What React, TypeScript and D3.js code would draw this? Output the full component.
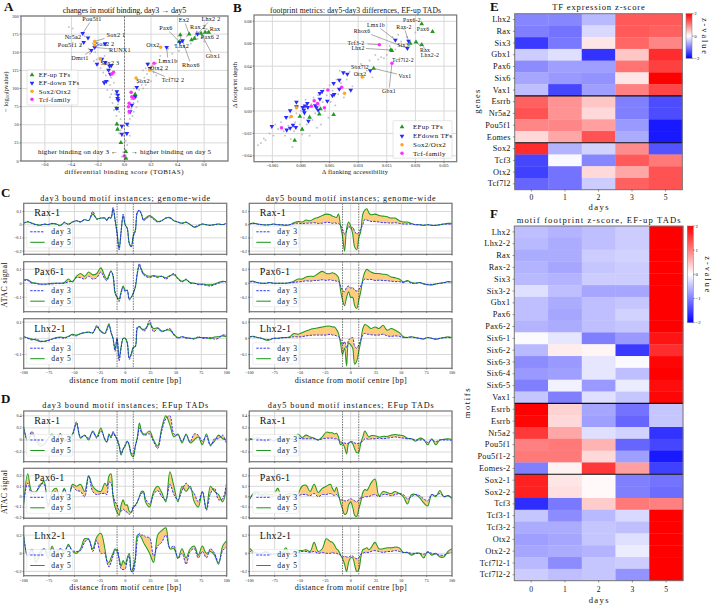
import React from "react";
import * as d3 from "d3";

const FONT = "'Liberation Serif', serif";

// ---------- panel A data ----------
const aGray: number[][] = [[-0.42,185],[-0.39,183],[-0.36,170],[-0.33,160],[-0.3,172],[-0.27,155],[-0.26,148],[-0.24,162],[-0.22,150],[-0.21,140],[-0.19,142],[-0.2,133],[-0.18,128],[-0.17,137],[-0.16,122],[-0.15,133],[-0.14,118],[-0.13,125],[-0.12,110],[-0.16,110],[-0.11,105],[-0.1,115],[-0.09,98],[-0.08,108],[-0.07,92],[-0.1,92],[-0.06,85],[-0.09,80],[-0.05,78],[-0.08,70],[-0.04,68],[-0.06,62],[-0.03,58],[-0.05,50],[-0.02,45],[-0.04,38],[-0.01,35],[-0.02,25],[0.0,18],[-0.01,12],[0.01,8],[0.02,22],[0.02,38],[0.03,48],[0.04,58],[0.03,65],[0.05,72],[0.06,62],[0.05,85],[0.07,80],[0.08,92],[0.07,100],[0.09,88],[0.1,108],[0.11,98],[0.12,112],[0.13,105],[0.14,125],[0.15,115],[0.16,128],[0.17,120],[0.18,135],[0.19,125],[0.21,132],[0.22,122],[0.24,135],[0.25,128],[0.27,145],[0.3,138],[0.33,155],[0.36,148],[0.38,160],[0.41,152],[0.43,165],[0.45,158],[0.47,172],[0.5,162],[0.52,168],[0.55,178],[0.58,170],[0.6,165],[0.62,182],[-0.13,98],[-0.11,88],[-0.07,75],[-0.03,42],[0.01,28],[0.04,35],[0.1,82],[0.14,100],[0.2,110],[0.24,118],[0.07,68],[-0.02,6],[0.02,4],[-0.15,145],[-0.23,138],[0.28,125],[0.16,105],[0.09,74]];
const aUp: number[][] = [[0.42,174],[0.4875,175],[0.505,167],[0.5275,169],[0.5775,176],[0.6075,177.5],[0.635,177.5],[0.4125,164.6],[-0.0575,51],[-0.0525,43.7],[-0.0275,25.3],[0.01,12.9],[0.01,3.7],[-0.0575,72.6],[0.08,92],[0.0725,88.7]];
const aDown: number[][] = [[-0.315,176],[-0.275,170],[-0.3075,163.7],[-0.225,156.8],[-0.25,152.6],[-0.145,161.8],[-0.17,140.7],[-0.2075,133.8],[-0.145,136],[-0.1,131.5],[-0.12,125.5],[-0.1125,131],[-0.1075,120],[-0.1375,110],[-0.1525,108],[-0.0575,95.6],[-0.05,91],[-0.0525,86.4],[-0.0475,84],[-0.0575,72.6],[-0.02,48.3],[0.02,51],[-0.02,37],[0.0175,38],[0.0425,68],[0.055,77],[0.0925,101.6],[0.175,133.8],[0.1925,127.8],[0.3175,156.8],[0.4375,166],[0.4175,163.7],[0.55,175],[0.08,88.7]];
const aSox: number[][] = [[-0.225,165],[-0.225,160],[-0.1825,140.7],[0.2725,156.8],[0.19,125.5],[0.0875,114.5]];
const aTcf: number[][] = [[-0.0825,122.3],[-0.095,120],[0.2225,134.7],[0.05,95],[0.055,88.7],[0.0675,86.4],[0.035,79.5],[0.03,75],[0.035,68],[-0.0025,6.9]];
const aLabels = ["Pou5f1","Nr5a2","Pou5f1 2","Sox2 1","Sox2 2","RUNX1","Dmrt1","Sox2 3","Pax6","Ex2","Lhx2 2","Rax 2","Rax","Pax6 2","Gbx1","Lhx2","Rhox6","Otx2","Lmx1b","Tcf7l2 2","Otx2 2","Sox2"];
const aTargets: number[][] = [[-0.315,176],[-0.315,176],[-0.3075,163.7],[-0.225,165],[-0.225,160],[-0.225,156.8],[-0.25,152.6],[-0.1825,140.7],[0.4125,164.6],[0.4875,175],[0.55,175],[0.5275,169],[0.6075,177.5],[0.505,167],[0.5775,176],[0.42,174],[0.4375,166],[0.2725,156.8],[0.3175,156.8],[0.19,125.5],[0.175,133.8],[0.0875,114.5]];
const aLabelPx: number[][] = [[92,19],[73,37],[70,45],[116,35],[105,44],[120,50],[80,58],[110,63],[166,28],[184,20],[211,19],[198,27],[215,29],[210,37],[213,56],[182,46],[191,65],[153,45],[168,61],[173,80],[159,68],[143,81]];

// ---------- panel B data ----------
const bGray: number[][] = [[-.0075,-.0305],[-.007,-.0285],[-.0065,-.0245],[-.0062,-.026],[-.0055,-.02],[-.0048,-.022],[-.0045,-.012],[-.004,-.016],[-.0035,-.01],[-.003,-.018],[-.0028,-.022],[-.0022,-.013],[-.002,-.006],[-.0018,-.025],[-.0015,-.032],[-.0012,-.018],[-.001,-.01],[-.0008,-.002],[-.0005,.004],[-.0002,-.012],[0,.0],[.0002,-.021],[.0005,-.006],[.0008,.01],[.001,-.012],[.0012,.003],[.0015,-.022],[.0018,.006],[.002,-.008],[.0022,.012],[.0025,-.002],[.0028,-.015],[.003,.014],[.0032,.005],[.0035,-.012],[.0038,.008],[.004,.02],[.0042,.0],[.0045,.014],[.0048,-.006],[.005,.023],[.0052,.008],[.0055,.018],[.006,.005],[.0062,.028],[.0065,.015],[.0068,.036],[.007,.025],[.0075,.012],[.008,.028],[.0085,.035],[.009,.022],[.0095,.04],[.01,.032],[.0105,.042],[.011,.03],[.0115,.036],[.012,.045],[.0125,.03],[.013,.05],[.0135,.046],[.014,.048],[.0145,.047],[.015,.05],[.0155,.058],[.016,.066],[.0165,.055],[.017,.068],[.0175,.062],[.018,.073],[.0185,.066],[.019,.058],[.02,.07]];
const bUp: number[][] = [[.0211,.0776],[.023,.0707],[.0201,.0615],[.0211,.0591],[.0191,.0603],[.0157,.0544],[.0159,.0538],[.0127,.038],[.0057,-.0033],[.0032,-.0027],[.0034,.0018],[.0015,-.0056],[-.0002,-.0048],[.0002,-.0163],[-.0011,-.0262]];
const bDown: number[][] = [[-.0051,-.0137],[-.0025,-.0169],[-.0019,-.0152],[-.0026,-.0056],[-.0019,.0003],[-.0008,.008],[-.0008,.0039],[-.0009,-.0146],[.0003,.0033],[.0007,.0045],[.0005,.0009],[.0006,-.0015],[.0011,.0068],[.0012,.0033],[.0013,-.0089],[.0025,.0048],[.0033,.0158],[.0037,.0175],[.0033,.0107],[.0057,.0247],[.0067,.0276],[.0074,.0342],[.0081,.033],[.0087,.0187],[.0067,.0196],[.0058,.0149],[.0055,.0137],[.0046,.0089],[.003,.0009],[.0165,.0633],[.0188,.0624],[.0186,.0559],[.0121,.036],[-.0014,-.0125],[.0027,.003]];
const bSox: number[][] = [[-.0017,-.0048],[-.0008,.003],[.0107,.0303],[.0076,.0158]];
const bTcf: number[][] = [[-.0034,-.0149],[.0023,.0092],[.0018,.0042],[.0041,.003],[.0047,.0187],[.0071,.0211],[.0137,.0591],[.0159,.0425],[.0029,.0068]];
const bLabels = ["Pax6-2","Rax-2","Pax6","Lmx1b","Rhox6","Tcf3-2","Lhx2","Six3","Rax","Lhx2-2","Tcf7l2-2","Sox7l2","Otx2","Vax1","Gbx1"];
const bTargets: number[][] = [[.0211,.0776],[.0188,.0624],[.023,.0707],[.0165,.0633],[.0186,.0559],[.0137,.0591],[.0157,.0544],[.0191,.0603],[.0201,.0615],[.0211,.0591],[.0159,.0425],[.0121,.036],[.0107,.0303],[.0127,.038],[.0159,.0425]];
const bLabelPx: number[][] = [[412,20],[404,27],[423,29],[376,25],[362,31],[356,43],[358,48],[403,45],[425,50],[430,55],[403,60],[360,67],[360,74],[405,76],[389,91]];

// ---------- footprint profiles ----------
const bp = [-100,-96,-92,-88,-84,-80,-76,-72,-68,-64,-60,-56,-52,-48,-44,-40,-36,-32,-28,-24,-20,
  -18,-16,-14,-12,-10,-8,-6,-4,-2,0,2,4,6,8,10,12,14,16,18,
  20,24,28,32,36,40,44,48,52,56,60,64,68,72,76,80,84,88,92,96,100];

const cLRaxD3 = [.01,.025,.01,0,-.005,.005,0,.01,.005,-.01,.02,0,.02,.03,.02,.04,.03,.1,.04,.05,.05,
  .03,.06,.05,.13,.04,-.07,-.19,-.05,.08,0,-.03,-.14,-.17,-.09,-.05,.1,.11,.08,.03,
  .04,.06,.04,.02,.03,.05,.05,.03,.02,.01,.02,0,-.015,-.005,.005,0,-.005,0,.005,0,.01];
const cLRaxD5 = [.012,.02,.012,.002,-.003,.003,.002,.008,.006,-.005,.015,.005,.02,.03,.022,.038,.032,.08,.045,.05,.05,
  .035,.055,.05,.12,.035,-.06,-.18,-.05,.07,0,-.025,-.14,-.165,-.08,-.04,.09,.105,.08,.04,
  .05,.07,.05,.025,.03,.05,.055,.03,.02,.012,.018,.002,-.02,-.01,.005,0,-.005,.002,.005,.002,.012];
const cLPaxD3 = [.02,.02,0,0,-.01,-.01,-.005,-.005,0,0,0,.01,.015,.04,.04,.03,.05,.03,.04,.08,.03,
  .02,.05,.085,.06,-.06,-.1,-.13,-.07,-.03,-.06,-.05,-.12,-.1,-.07,-.02,.08,.14,.09,.06,
  .05,.04,.05,.04,.05,.03,.05,.07,.03,.01,.03,0,0,-.01,-.01,-.015,-.02,-.01,0,.01,.01];
const cLPaxD5 = [.025,.025,.005,0,-.005,-.005,-.005,0,0,0,.005,.03,.01,.05,.07,.05,.08,.06,.07,.11,.05,
  .03,.06,.09,.05,-.07,-.1,-.11,-.06,-.02,-.05,-.05,-.11,-.1,-.07,-.03,.07,.125,.1,.07,
  .06,.05,.055,.05,.05,.04,.055,.06,.035,.015,.025,.005,0,-.005,-.005,-.01,-.01,-.005,.005,.015,.01];
const cLLhxD3 = [.01,0,-.01,-.005,-.015,-.02,-.015,-.005,0,.005,0,.01,.02,.015,.03,.035,.04,.03,.08,.04,.03,
  .05,.08,.04,0,-.08,0,-.14,-.06,0,0,-.03,-.13,-.1,-.06,-.05,.07,.07,.06,.045,
  .05,.11,.04,.06,.04,.05,.06,.02,0,.01,0,0,-.005,.01,0,0,.005,-.005,0,.02,.02];
const cLLhxD5 = [.012,.002,-.005,-.01,-.02,-.018,-.012,-.005,.005,.008,.005,.012,.025,.02,.028,.035,.038,.035,.07,.045,.03,
  .06,.09,.035,0,-.07,0,-.12,-.05,0,0,-.025,-.12,-.095,-.055,-.05,.06,.075,.06,.055,
  .06,.09,.06,.065,.045,.05,.05,.025,.005,.01,.005,0,0,.005,.005,.005,-.002,.008,.01,.015,.01];

const cRRaxD3 = [.005,.01,.005,0,-.002,0,.005,0,0,-.003,0,.008,.012,.008,.012,.012,.015,.01,.012,.018,.015,
  .01,.015,.01,.01,-.005,-.035,-.07,-.05,-.01,-.03,-.02,-.05,-.07,-.06,-.03,0,.04,.035,.03,
  .025,.025,.02,.015,.015,.012,.015,.01,.005,.005,.005,0,0,-.005,0,-.005,-.005,0,.005,.005,.005];
const cRRaxD5 = [.005,.012,.005,.002,-.002,0,.005,0,-.002,-.005,0,.015,.025,.02,.035,.03,.045,.055,.07,.08,.075,
  .065,.06,.055,.08,-.01,-.09,-.2,-.03,.02,-.01,-.07,-.17,-.19,-.1,-.05,.08,.11,.12,.09,
  .075,.08,.07,.065,.06,.05,.05,.03,.02,.02,.01,0,0,-.005,0,-.005,-.005,0,.005,.01,.01];
const cRPaxD3 = [.01,.01,.005,0,0,.005,0,0,0,0,.003,.005,.01,.012,.018,.015,.02,.02,.025,.02,.025,
  .02,.02,.015,.015,-.02,-.05,-.06,-.03,-.02,-.035,-.03,-.05,-.055,-.045,-.02,.01,.03,.028,.025,
  .028,.02,.022,.02,.018,.015,.012,.012,.005,.015,0,0,.005,-.003,-.01,-.01,-.005,0,.003,.01,.005];
const cRPaxD5 = [.012,.015,.005,0,0,.005,0,0,0,0,.005,.015,.03,.03,.045,.05,.05,.07,.085,.07,.07,
  .075,.07,.06,.04,-.05,-.12,-.16,-.1,-.06,-.1,-.1,-.16,-.18,-.12,-.06,.03,.08,.1,.09,
  .08,.07,.07,.065,.06,.045,.04,.03,.01,.02,.005,0,.005,-.005,-.01,-.012,-.005,0,.005,.012,.008];
const cRLhxD3 = [.008,.01,.005,0,-.008,-.008,0,0,.002,.004,.005,.01,.008,.01,.015,.018,.02,.02,.02,.02,.025,
  .02,.02,.015,.01,-.005,-.04,-.02,-.06,-.01,0,.005,-.05,-.06,-.04,-.01,.02,.03,.025,.025,
  .022,.02,.02,.025,.015,.012,.015,.012,.005,.005,.008,.003,0,-.003,.005,0,-.005,0,.003,.005,.003];
const cRLhxD5 = [.01,.012,.005,0,-.01,-.01,0,0,.005,.005,.01,.03,.025,.035,.045,.055,.06,.065,.07,.075,.075,
  .07,.07,.055,.03,-.03,-.1,-.06,-.17,-.03,-.04,-.06,-.16,-.14,-.08,-.02,.06,.085,.08,.07,
  .06,.07,.06,.08,.05,.06,.05,.035,.01,.005,.01,.005,0,-.005,.005,0,-.005,0,.005,.01,.005];

const dLRaxD3 = [.18,0,.14,.02,-.05,-.07,.03,.07,-.02,.11,0,.03,.08,.3,.05,.07,.03,.13,.03,.15,.02,
  -.04,.07,.03,.14,.06,.02,-.08,-.22,-.15,-.08,-.02,-.08,-.22,-.23,-.1,.02,.2,.12,.08,
  .08,.1,-.03,-.14,.15,.35,.4,.1,.08,-.02,.08,-.03,.1,.08,-.02,.06,-.1,.02,.02,.08,-.07];
const dLRaxD5 = [.22,-.02,.1,0,-.1,-.08,.02,.1,-.05,.1,-.02,.02,.1,.27,.03,.08,0,.15,.05,.2,0,
  -.03,.1,.05,.12,.08,0,-.1,-.25,-.15,-.1,-.02,-.1,-.25,-.28,-.1,.05,.28,.15,.1,
  .1,.15,0,-.1,.2,.4,.25,.05,.1,-.05,.1,-.05,0,.05,-.08,.1,-.08,-.02,.08,.02,0];
const dLPaxD3 = [-.05,.13,.02,.03,.12,.12,-.08,.03,.05,0,.07,-.03,.1,.06,.05,0,.2,.05,.02,.03,.03,
  .02,.14,.13,.02,-.05,-.08,-.13,-.14,-.12,-.14,-.15,-.17,-.15,-.1,-.09,-.05,0,.03,.04,
  -.02,-.07,.02,.06,0,-.03,.12,.02,-.03,.06,.13,.08,.03,-.05,.05,-.13,.03,.08,-.03,-.02,.15];
const dLPaxD5 = [-.08,.22,.05,.05,.1,.15,-.1,.05,.08,-.02,.08,-.05,.12,.1,.12,.05,.2,.1,.06,.05,.13,
  .1,.2,.22,0,-.1,-.15,-.18,-.08,-.03,-.08,-.08,-.14,-.15,-.1,-.08,-.05,0,.05,.05,
  -.05,-.1,.05,.1,.04,-.05,.24,.1,-.05,.1,.05,.1,-.05,-.1,.05,-.12,.1,.05,.02,-.05,.1];
const dLLhxD3 = [.18,-.03,.05,-.05,.02,.05,0,.05,.02,.05,.03,.08,.03,.02,.03,.12,.16,.02,.14,0,0,
  -.1,-.15,-.1,-.03,.03,.05,-.08,-.17,-.18,-.17,-.08,-.03,-.2,-.2,-.08,.15,.22,.2,.2,
  .18,.17,-.03,.08,.12,.2,.06,.08,-.06,0,-.12,.02,.05,-.05,.02,-.05,.05,0,-.1,.03,.07];
const dLLhxD5 = [.2,-.03,.03,-.1,-.02,.05,-.05,.08,-.05,.05,0,.1,.02,0,.05,.16,.15,.05,.18,.22,.05,
  -.08,-.1,-.05,0,.05,.02,-.05,-.14,-.08,-.12,-.05,0,-.2,-.15,-.05,.2,.2,.17,.12,
  .08,0,-.1,.2,.25,.28,.05,.05,-.05,.05,-.05,.05,.08,-.02,.08,0,.02,-.02,-.12,.08,.14];

const dRRaxD3 = [.01,.01,.02,.01,-.01,.01,-.01,.01,0,0,.01,.01,.03,.02,.02,.02,.02,0,.02,.03,.03,
  .03,.02,.02,0,-.03,-.04,-.05,-.06,-.05,-.03,-.03,-.05,-.06,-.06,-.04,-.02,.02,.02,.01,
  .02,.02,.03,.02,.03,.04,.05,.04,.03,.02,.02,0,0,0,-.04,0,-.03,0,0,0,-.01];
const dRRaxD5 = [.03,.01,.04,0,-.03,.03,-.02,.03,0,-.01,.02,.01,.1,.04,.08,.05,.03,0,.05,.13,.12,
  .12,.1,.11,.05,-.08,-.06,-.12,-.23,-.06,-.03,-.06,-.15,-.21,-.2,-.05,.05,.15,.1,.05,
  .07,.07,.05,.06,.06,.08,.09,.08,.07,.03,.02,-.02,.03,.01,-.08,.02,-.08,0,.01,.02,.01];
const dRPaxD3 = [-.03,.02,.02,.01,.01,0,0,.01,-.01,0,.01,0,.01,.02,.02,.01,.03,0,.02,.02,.03,
  .02,.01,.02,0,-.03,-.03,-.04,-.04,-.03,-.02,-.03,-.04,-.05,-.03,-.01,-.01,0,0,0,
  .01,.02,0,.02,.02,.01,.02,.03,.02,-.02,0,.02,.01,-.02,-.04,.02,.01,.03,0,.01,-.01];
const dRPaxD5 = [-.03,.03,.04,.02,.03,.02,.02,.08,0,.02,.03,.02,.03,.1,.11,.05,.12,.04,.08,.1,.12,
  .08,.05,.09,.02,-.06,-.12,-.17,-.16,-.08,-.05,-.1,-.18,-.19,-.12,-.05,.04,.07,.06,.09,
  .13,.17,.01,.05,.04,.03,.05,.03,0,-.07,.02,.02,-.01,-.06,-.09,.02,0,.06,0,.01,-.02];
const dRLhxD3 = [.03,0,0,0,.01,-.01,-.01,0,0,.01,-.01,0,.01,.02,.02,.01,.02,0,.01,0,0,
  .01,0,0,-.01,-.02,-.04,-.03,-.04,-.04,-.03,-.03,-.05,-.06,-.05,-.01,0,.01,.01,.01,
  .02,.03,.02,.01,.02,.02,.03,.02,.01,.01,0,0,0,-.01,.01,0,-.01,-.02,-.02,0,.01];
const dRLhxD5 = [.06,.02,0,0,.02,0,-.01,0,0,.06,-.01,.01,.03,.03,.04,.02,.12,.02,.05,.16,.13,
  .12,.09,.05,.03,-.02,-.06,-.12,-.2,-.1,-.05,-.05,-.13,-.2,-.18,-.05,.04,.05,.06,.04,
  .06,.12,.05,.05,.06,.06,.07,.06,.01,.01,-.02,0,0,-.05,.02,-.02,0,-.04,-.04,.02,.05];

const bpTicks = [-100,-75,-50,-25,0,25,50,75,100];

// ---------- heatmaps ----------
const days = ["0","1","2","3","5"];
const eGenes = ["Lhx2","Rax","Six3","Gbx1","Pax6","Six6","Vax1","Esrrb","Nr5a2","Pou5f1","Eomes","Sox2","Tcf3","Otx2","Tcf7l2"];
const eValues = [
  [-.95,-.95,-.55,1.3,1.3],[-1,-1.1,-.3,1.3,1.25],[-1.55,-1.05,.2,1.2,.95],[-.4,-.25,-1.6,.45,1.65],[-.9,-.75,-.75,1.1,1.5],
  [-.7,-.8,-.85,.2,2],[-.5,-1.45,-.75,1,1.45],[1.25,.85,.45,-1,-1.4],[1.35,.85,.3,-1,-1.4],[.95,.95,.75,-.8,-1.8],
  [.3,.7,1.35,-.65,-1.8],[1.65,-.6,-.35,.9,-1.35],[-1.45,-.05,-.95,1.3,1.05],[-1.5,-1.1,.3,.7,1.35],[-1.2,-1.1,-.4,1.25,1.35]];
const eBreaks = [7,11];
const fMotifs = ["Lhx2","Lhx2-2","Rax","Rax-2","Six3","Six3-2","Gbx1","Pax6","Pax6-2","Six6-1","Six6-2","Six6-3","Six6-4","Six6-5","Vax1","Esrrb","Esrrb","Nr5a2","Pou5f1","Pou5f1-2","Eomes-2","Sox2-1","Sox2-2","Tcf3","Tcf3-1","Tcf3-2","Otx2","Otx2-2","Tcf7l2-1","Tcf7l2-2"];
const fValues = [
  [-.5,-.6,-.5,-.4,2],[-.55,-.65,-.5,-.4,2],[-.65,-.65,-.4,-.35,2],[-.6,-.7,-.45,-.4,2],[-.55,-.6,-.4,-.4,2],
  [-.25,-.5,-.7,-.7,2],[-.5,-.65,-.5,-.45,2],[-.5,-.7,-.5,-.35,2],[-.6,-.65,-.5,-.45,2],[-.03,-.2,-1,-.8,1.85],
  [-.55,.15,.08,-1.55,1.65],[-.9,-.8,-.2,-.05,1.95],[-.8,-.75,-.2,-.5,2],[-1,-.1,-.8,-.15,1.9],[-.45,-1,-.25,-.45,1.95],
  [2,.35,-.7,-1.1,-.45],[1.95,.3,-.75,-1.2,-.45],[1.55,.7,-.25,-.35,-1.6],[1,1.05,.6,-1.2,-1.45],[1.05,1.05,.3,-.75,-1.8],
  [-1,.1,1.55,.75,-1.5],[1.75,.2,.05,-1,-1.1],[1.75,.25,.05,-1,-1.15],[-1.65,-1.05,.4,1.05,1],[-.45,-.9,-.55,-.3,2],
  [-.65,-.65,-.45,-.5,2],[-.75,-.7,-.45,-.25,2],[-.7,-.65,-.6,-.15,2],[-.55,-.9,-.45,-.4,2],[-.4,-.5,-.45,-.85,2]];
const fBreaks = [15,21];

const SPINE = "#7a7a7a";
const GRID = "#d9d9d9";
const GREEN = "#1f9a1f";
const BLUE = "#2a2aff";
const ORANGE = "#ffa51e";
const MAG = "#ff2dff";
const bwr = d3.scaleLinear<string>().domain([-2, 0, 2]).range(["#0000ff", "#ffffff", "#ff0000"]).clamp(true);

// w: target rendered width in px, spread through the text with letter spacing
const T = ({ w, ...p }: any) => <text fontFamily={FONT} fill="#111" textLength={w} lengthAdjust={w ? "spacing" : undefined} {...p} />;
const fmt = (v: number) => String(v).replace("-", "\u2212");

function Marker({ x, y, kind }: { x: number; y: number; kind: string }) {
  if (kind === "sox" || kind === "tcf") {
    const c = kind === "sox" ? ORANGE : MAG;
    return <circle cx={x} cy={y} r={1.75} fill={c} />;
  }
  const up = kind === "up";
  const path = d3.symbol().type(d3.symbolTriangle).size(9.5)() as string;
  return <path d={path} transform={`translate(${x},${y}) rotate(${up ? 0 : 180})`} fill={up ? GREEN : BLUE} />;
}

function Scatter(props: any) {
  const { x, y, xt, yt, xf, yf, gray, up, down, sox, tcf, labels, targets, labelPx, legend, fs } = props;
  const [L, R] = x.range();
  const [B, Tp] = y.range();
  return (
    <g>
      <rect x={L} y={Tp} width={R - L} height={B - Tp} fill="#fff" />
      {xt.map((t: number) => <line key={"gx" + t} x1={x(t)} x2={x(t)} y1={Tp} y2={B} stroke={GRID} strokeWidth={1} />)}
      {yt.map((t: number) => <line key={"gy" + t} x1={L} x2={R} y1={y(t)} y2={y(t)} stroke={GRID} strokeWidth={1} />)}
      {gray.map((p: number[], i: number) => <circle key={"g" + i} cx={x(p[0])} cy={y(p[1])} r={0.95} fill="#a8a8a8" opacity={0.7} />)}
      {labels.map((l: string, i: number) => {
        const [lx, ly] = labelPx[i];
        const px = x(targets[i][0]), py = y(targets[i][1]);
        const hw = l.length * 1.75 + 1, hh = 3.5;
        const dx = px - lx, dy = py - ly;
        const k = Math.min(hw / Math.abs(dx || 1e-6), hh / Math.abs(dy || 1e-6));
        return <line key={"l" + i} x1={lx + dx * k} y1={ly + dy * k} x2={px} y2={py} stroke="#555" strokeWidth={0.5} />;
      })}
      {up.map((p: number[], i: number) => <Marker key={"u" + i} x={x(p[0])} y={y(p[1])} kind="up" />)}
      {down.map((p: number[], i: number) => <Marker key={"d" + i} x={x(p[0])} y={y(p[1])} kind="down" />)}
      {sox.map((p: number[], i: number) => <Marker key={"s" + i} x={x(p[0])} y={y(p[1])} kind="sox" />)}
      {tcf.map((p: number[], i: number) => <Marker key={"t" + i} x={x(p[0])} y={y(p[1])} kind="tcf" />)}
      {labels.map((l: string, i: number) => (
        <T key={"lt" + i} x={labelPx[i][0]} y={labelPx[i][1] + 2.3} fontSize={fs} textAnchor="middle" letterSpacing={0.25}>{l}</T>
      ))}
      <rect x={L} y={Tp} width={R - L} height={B - Tp} fill="none" stroke={SPINE} strokeWidth={1.25} />
      {xt.map((t: number) => (
        <g key={"xt" + t}>
          <line x1={x(t)} x2={x(t)} y1={B} y2={B + 1.5} stroke="#333" strokeWidth={0.5} />
          <T x={x(t)} y={B + 5} fontSize={4.2} textAnchor="middle">{xf(t)}</T>
        </g>
      ))}
      {yt.map((t: number) => (
        <g key={"yt" + t}>
          <line x1={L - 1.5} x2={L} y1={y(t)} y2={y(t)} stroke="#333" strokeWidth={0.5} />
          <T x={L - 2.5} y={y(t) + 1.5} fontSize={4.2} textAnchor="end">{yf(t)}</T>
        </g>
      ))}
      <rect x={legend.x} y={legend.y} width={legend.w} height={legend.h} fill="#fff" fillOpacity={0.85} stroke="#d5d5d5" strokeWidth={0.6} rx={1} />
      {legend.items.map((it: string[], i: number) => (
        <g key={"li" + i}>
          <Marker x={legend.mx} y={legend.rows[i]} kind={it[1]} />
          <T x={legend.tx} y={legend.rows[i] + 2.4} fontSize={legend.fs} letterSpacing={0.3}>{it[0]}</T>
        </g>
      ))}
    </g>
  );
}

function Profile(props: any) {
  const { left, right, top, bottom, domain, ticks, d3v, d5v, name, showX, legendTop, legendX } = props;
  const x = d3.scaleLinear().domain([-100, 100]).range([left, right]);
  const y = d3.scaleLinear().domain(domain).range([bottom, top]);
  const idx = d3.range(bp.length);
  const area = d3.area<number>().x(i => x(bp[i])).y0(i => y(d3v[i])).y1(i => y(d5v[i])).curve(d3.curveCatmullRom);
  const line = (v: number[]) => d3.line<number>().x(i => x(bp[i])).y(i => y(v[i])).curve(d3.curveCatmullRom)(idx) as string;
  const cid = `cp${Math.round(left)}-${Math.round(top)}`;
  const lx = left + legendX;
  return (
    <g>
      <clipPath id={cid}><rect x={left} y={top} width={right - left} height={bottom - top} /></clipPath>
      <rect x={left} y={top} width={right - left} height={bottom - top} fill="#fff" />
      {bpTicks.map(t => <line key={"gx" + t} x1={x(t)} x2={x(t)} y1={top} y2={bottom} stroke={GRID} strokeWidth={1} />)}
      {ticks.map((t: number) => <line key={"gy" + t} x1={left} x2={right} y1={y(t)} y2={y(t)} stroke={GRID} strokeWidth={1} />)}
      <g clipPath={`url(#${cid})`}>
        <path d={area(idx) as string} fill="#ffc870" opacity={0.9} />
        <path d={line(d5v)} fill="none" stroke={GREEN} strokeWidth={1.05} />
        <path d={line(d3v)} fill="none" stroke={BLUE} strokeWidth={0.95} strokeDasharray="2.4 1.2" />
      </g>
      {[-8, 8].map(t => <line key={"v" + t} x1={x(t)} x2={x(t)} y1={top} y2={bottom} stroke="#222" strokeWidth={0.6} strokeDasharray="1.6 1" />)}
      <rect x={lx} y={top + legendTop} width={46} height={21.5} fill="#fff" fillOpacity={0.86} stroke="#ddd" strokeWidth={0.5} rx={1} />
      <line x1={lx + 3.5} x2={lx + 18} y1={top + legendTop + 5.5} y2={top + legendTop + 5.5} stroke={BLUE} strokeWidth={0.95} strokeDasharray="2.4 1.2" />
      <line x1={lx + 3.5} x2={lx + 18} y1={top + legendTop + 16} y2={top + legendTop + 16} stroke={GREEN} strokeWidth={1.05} />
      <T x={lx + 24.5} y={top + legendTop + 7.9} fontSize={7.6} w={19.7}>day 3</T>
      <T x={lx + 24.5} y={top + legendTop + 18.4} fontSize={7.6} w={19.7}>day 5</T>
      <T x={left + 10.5} y={top + 13} fontSize={10} letterSpacing={0.35}>{name}</T>
      <rect x={left} y={top} width={right - left} height={bottom - top} fill="none" stroke={SPINE} strokeWidth={1.25} />
      {bpTicks.map(t => <line key={"xt" + t} x1={x(t)} x2={x(t)} y1={bottom} y2={bottom + 1.3} stroke="#333" strokeWidth={0.5} />)}
      {ticks.map((t: number) => (
        <g key={"yt" + t}>
          <line x1={left - 1.3} x2={left} y1={y(t)} y2={y(t)} stroke="#333" strokeWidth={0.5} />
          <T x={left - 2.2} y={y(t) + 1.4} fontSize={4.1} textAnchor="end">{fmt(t)}</T>
        </g>
      ))}
      {showX && bpTicks.map(t => <T key={"xl" + t} x={x(t)} y={bottom + 5.8} fontSize={4.1} textAnchor="middle">{fmt(t)}</T>)}
    </g>
  );
}

function Heat(props: any) {
  const { left, right, top, bottom, rows, values, breaks, title, titleY, titleW, ylab, ylabX, ylabW, cbar, cbarTicks, xlabY, daysY, zlabX, gid } = props;
  const x = d3.scaleBand<string>().domain(days).range([left, right]);
  const y = d3.scaleBand<number>().domain(d3.range(rows.length)).range([top, bottom]);
  const cy = d3.scaleLinear().domain([-2, 2]).range([cbar.bottom, cbar.top]);
  return (
    <g>
      <linearGradient id={gid} x1="0" y1="1" x2="0" y2="0">
        <stop offset="0" stopColor="#0000ff" /><stop offset="0.5" stopColor="#ffffff" /><stop offset="1" stopColor="#ff0000" />
      </linearGradient>
      {values.map((row: number[], r: number) => row.map((v, c) => (
        <rect key={r + "-" + c} x={x(days[c])} y={y(r)} width={x.bandwidth() + 0.3} height={y.bandwidth() + 0.3} fill={bwr(v)} />
      )))}
      {breaks.map((b: number) => <line key={b} x1={left} x2={right} y1={y(b)} y2={y(b)} stroke="#111" strokeWidth={1.1} />)}
      <rect x={left} y={top} width={right - left} height={bottom - top} fill="none" stroke="#777" strokeWidth={1} />
      {rows.map((l: string, r: number) => (
        <g key={"r" + r}>
          <line x1={left - 1.8} x2={left} y1={y(r)! + y.bandwidth() / 2} y2={y(r)! + y.bandwidth() / 2} stroke="#333" strokeWidth={0.5} />
          <T x={left - 4} y={y(r)! + y.bandwidth() / 2 + 2.6} fontSize={8.3} textAnchor="end" letterSpacing={0.25}>{l}</T>
        </g>
      ))}
      {days.map(d => (
        <g key={"c" + d}>
          <line x1={x(d)! + x.bandwidth() / 2} x2={x(d)! + x.bandwidth() / 2} y1={bottom} y2={bottom + 1.8} stroke="#333" strokeWidth={0.5} />
          <T x={x(d)! + x.bandwidth() / 2} y={daysY} fontSize={7.6} textAnchor="middle">{d}</T>
        </g>
      ))}
      <T x={(left + right) / 2 - 10} y={xlabY} fontSize={8.6} w={20}>days</T>
      <T x={(left + right) / 2 - titleW / 2} y={titleY} fontSize={8.6} w={titleW}>{title}</T>
      <T transform={`translate(${ylabX},${(top + bottom) / 2 + ylabW / 2}) rotate(-90)`} fontSize={8.6} w={ylabW}>{ylab}</T>
      <rect x={cbar.left} y={cbar.top} width={cbar.w} height={cbar.bottom - cbar.top} fill={`url(#${gid})`} stroke="#777" strokeWidth={0.5} />
      {cbarTicks.map((t: number) => (
        <g key={"cb" + t}>
          <line x1={cbar.left + cbar.w} x2={cbar.left + cbar.w + 1.5} y1={cy(t)} y2={cy(t)} stroke="#333" strokeWidth={0.5} />
          <T x={cbar.left + cbar.w + 2.2} y={cy(t) + 1.6} fontSize={4.8}>{fmt(t)}</T>
        </g>
      ))}
      <T transform={`translate(${zlabX},${(cbar.top + cbar.bottom) / 2 - 18}) rotate(90)`} fontSize={8.2} w={36}>z-value</T>
    </g>
  );
}

const LX = [23.7, 226.7];
const RX = [249.3, 452];
const cRows = [
  { top: 203.3, bottom: 254.3, domain: [-0.224, 0.162], ticks: [-0.2, -0.1, 0, 0.1], name: "Rax-1", legendTop: 23 },
  { top: 261.7, bottom: 311.7, domain: [-0.203, 0.154], ticks: [-0.1, 0, 0.1], name: "Pax6-1", legendTop: 23.5 },
  { top: 318.7, bottom: 368.3, domain: [-0.185, 0.121], ticks: [-0.1, 0, 0.1], name: "Lhx2-1", legendTop: 24 },
];
const dRows = [
  { top: 411, bottom: 461.7, domain: [-0.36, 0.48], ticks: [-0.2, 0, 0.2, 0.4], name: "Rax-1", legendTop: 23.5 },
  { top: 468.3, bottom: 518.3, domain: [-0.208, 0.273], ticks: [-0.2, -0.1, 0, 0.1, 0.2], name: "Pax6-1", legendTop: 23.5 },
  { top: 526, bottom: 575.7, domain: [-0.246, 0.3], ticks: [-0.2, 0, 0.2], name: "Lhx2-1", legendTop: 23.5 },
];
const cL = [[cLRaxD3, cLRaxD5], [cLPaxD3, cLPaxD5], [cLLhxD3, cLLhxD5]];
const cR = [[cRRaxD3, cRRaxD5], [cRPaxD3, cRPaxD5], [cRLhxD3, cRLhxD5]];
const dL = [[dLRaxD3, dLRaxD5], [dLPaxD3, dLPaxD5], [dLLhxD3, dLLhxD5]];
const dR = [[dRRaxD3, dRRaxD5], [dRPaxD3, dRPaxD5], [dRLhxD3, dRLhxD5]];

const centre = (cx: number, y: number, w: number, fs: number, s: string) => <T x={cx - w / 2} y={y} fontSize={fs} w={w}>{s}</T>;

export default function App() {
  const ax = d3.scaleLinear().domain([-0.78, 0.78]).range([21, 228]);
  const ay = d3.scaleLinear().domain([0, 200]).range([161, 16]);
  const bx = d3.scaleLinear().domain([0, 0.025]).range([301, 444]);
  const by = d3.scaleLinear().domain([0, 0.08]).range([111, 21.3]);
  const bxD = d3.scaleLinear().domain([bx.invert(254), bx.invert(456.7)]).range([254, 456.7]);
  const byD = d3.scaleLinear().domain([by.invert(161.7), by.invert(15)]).range([161.7, 15]);
  const legendItemsA = [["EF-up TFs", "up"], ["EF-down TFs", "down"], ["Sox2/Otx2", "sox"], ["Tcf-family", "tcf"]];
  const legendItemsB = [["EFup TFs", "up"], ["EFdown TFs", "down"], ["Sox2/Otx2", "sox"], ["Tcf-family", "tcf"]];

  const renderGroup = (rows: any[], data: number[][][], X: number[], legendX: number) =>
    rows.map((r, i) => (
      <Profile key={X[0] + "-" + r.top} left={X[0]} right={X[1]} top={r.top} bottom={r.bottom} domain={r.domain} ticks={r.ticks}
        d3v={data[i][0]} d5v={data[i][1]} name={r.name} showX={i === 2} legendTop={r.legendTop} legendX={legendX} />
    ));

  return (
    <svg width={713} height={606} viewBox="0 0 713 606" style={{ position: "absolute", left: 0, top: 0, background: "#fff" }}>
      {/* A */}
      <T x={4} y={11} fontSize={13} fontWeight="bold">A</T>
      {centre(124.5, 13.2, 123.3, 8, "changes in motif binding, day3 → day5")}
      <Scatter x={ax} y={ay} xt={[-0.6, -0.4, -0.2, 0, 0.2, 0.4, 0.6]} yt={[0, 25, 50, 75, 100, 125, 150, 175, 200]}
        xf={(t: number) => fmt(+t.toFixed(1)).replace(/^0$/, "0.0")} yf={(t: number) => String(t)}
        gray={aGray} up={aUp} down={aDown} sox={aSox} tcf={aTcf} labels={aLabels} targets={aTargets} labelPx={aLabelPx} fs={6.2}
        legend={{ x: 27, y: 70, w: 51, h: 35, mx: 32, tx: 38.7, rows: [75, 83, 91.3, 99.3], fs: 6.8, items: legendItemsA }} />
      <line x1={ax(0)} x2={ax(0)} y1={16} y2={161} stroke="#555" strokeWidth={0.7} strokeDasharray="2 1.3" />
      <T x={38} y={154} fontSize={7} w={80}>higher binding on day 3 ←</T>
      <T x={131} y={154} fontSize={7} w={80}>→ higher binding on day 5</T>
      {centre(124, 174, 119, 7, "differential binding score (TOBIAS)")}
      <T transform="translate(8,112) rotate(-90)" fontSize={6.6}>− log<tspan fontSize={4.8} dy={1.2}>10</tspan><tspan dy={-1.2}>(pvalue)</tspan></T>

      {/* B */}
      <T x={233} y={12} fontSize={13} fontWeight="bold">B</T>
      {centre(355.5, 13, 171, 7.6, "footprint metrics: day5-day3 differences, EF-up TADs")}
      <Scatter x={bxD} y={byD} xt={[-0.005, 0, 0.005, 0.01, 0.015, 0.02, 0.025]} yt={[-0.04, -0.02, 0, 0.02, 0.04, 0.06, 0.08]}
        xf={(t: number) => fmt(+t.toFixed(3)).replace(/^0$/, "0.000").replace(/^(−?0\.0\d?)$/, (m) => m.padEnd(m.startsWith("−") ? 6 : 5, "0"))}
        yf={(t: number) => fmt(+t.toFixed(2)).replace(/^0$/, "0.00").replace(/^(−?0\.\d)$/, "$10")}
        gray={bGray} up={bUp} down={bDown} sox={bSox} tcf={bTcf} labels={bLabels} targets={bTargets} labelPx={bLabelPx} fs={5.8}
        legend={{ x: 393, y: 120.7, w: 59, h: 37.5, mx: 402, tx: 413, rows: [127, 136, 144.7, 153.3], fs: 7, items: legendItemsB }} />
      {centre(355, 174, 66, 6.6, "Δ flanking accessibility")}
      <T transform="translate(237,108) rotate(-90)" fontSize={7} w={46}>Δ footprint depth</T>

      {/* C */}
      <T x={1} y={197} fontSize={13} fontWeight="bold">C</T>
      {centre(125.2, 201, 170, 8.2, "day3 bound motif instances; genome-wide")}
      {centre(350.7, 201, 170, 8.2, "day5 bound motif instances; genome-wide")}
      {renderGroup(cRows, cL, LX, 3)}
      {renderGroup(cRows, cR, RX, 3.5)}
      {centre(125.2, 383, 112, 8, "distance from motif centre [bp]")}
      {centre(350.7, 383, 112, 8, "distance from motif centre [bp]")}
      <T transform="translate(7,307.5) rotate(-90)" fontSize={7.8} w={45}>ATAC signal</T>

      {/* D */}
      <T x={1} y={403} fontSize={13} fontWeight="bold">D</T>
      {centre(125.2, 408, 166, 8.2, "day3 bound motif instances; EFup TADs")}
      {centre(350.7, 408, 166, 8.2, "day5 bound motif instances; EFup TADs")}
      {renderGroup(dRows, dL, LX, 3)}
      {renderGroup(dRows, dR, RX, 3.5)}
      {centre(125.2, 590, 112, 8, "distance from motif centre [bp]")}
      {centre(350.7, 590, 112, 8, "distance from motif centre [bp]")}
      <T transform="translate(7,514) rotate(-90)" fontSize={7.8} w={44}>ATAC signal</T>

      {/* E */}
      <T x={490} y={11} fontSize={13} fontWeight="bold">E</T>
      <Heat left={514.7} right={682.3} top={13.7} bottom={189.7} rows={eGenes} values={eValues} breaks={eBreaks}
        title="TF expression z-score" titleY={10} titleW={92.7} ylab="genes" ylabX={479.5} ylabW={24}
        cbar={{ left: 686, w: 6, top: 13.7, bottom: 58.3 }} cbarTicks={[-2, 0, 2]} xlabY={210} daysY={200} zlabX={702} gid="gE" />

      {/* F */}
      <T x={490} y={218} fontSize={13} fontWeight="bold">F</T>
      <Heat left={514.3} right={683} top={226} bottom={580.7} rows={fMotifs} values={fValues} breaks={fBreaks}
        title="motif footprint z-score, EF-up TADs" titleY={222.7} titleW={164} ylab="motifs" ylabX={470} ylabW={30}
        cbar={{ left: 687.3, w: 6, top: 226, bottom: 322.7 }} cbarTicks={[-2, -1, 0, 1, 2]} xlabY={602.5} daysY={591.5} zlabX={705} gid="gF" />
    </svg>
  );
}
